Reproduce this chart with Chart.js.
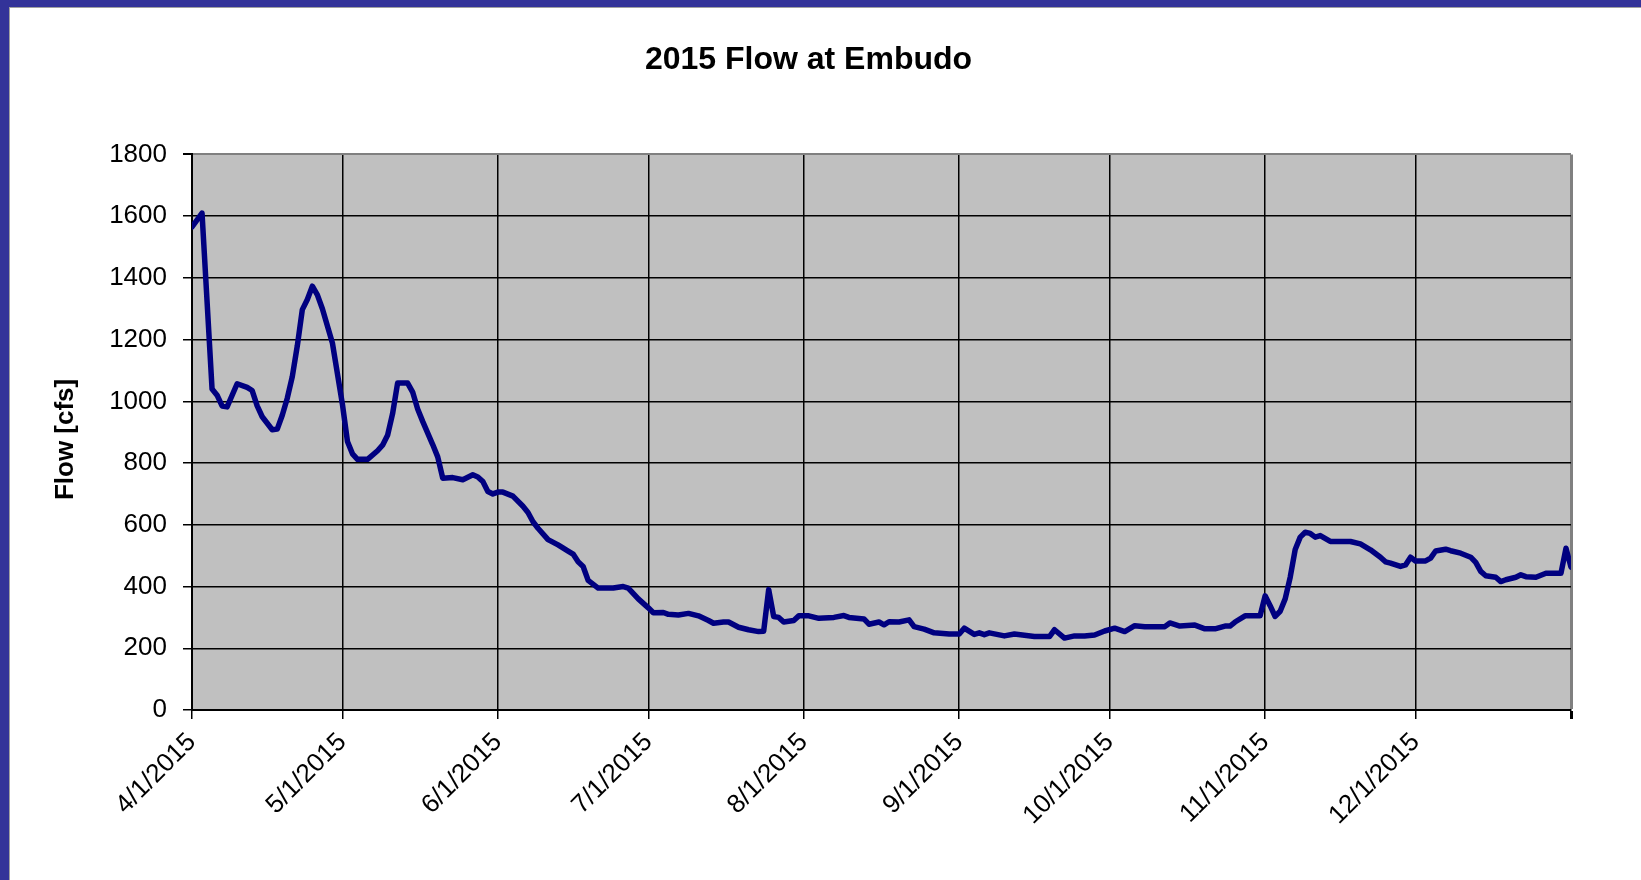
<!DOCTYPE html>
<html>
<head>
<meta charset="utf-8">
<title>2015 Flow at Embudo</title>
<script src="https://cdn.jsdelivr.net/npm/chart.js@4.4.1/dist/chart.umd.min.js"></script>
<style>
  html, body { margin: 0; padding: 0; background: #fff; }
  #frame {
    position: absolute; left: 0; top: 0; width: 1632px; height: 873px;
    border-top: 7px solid #333399; border-left: 9px solid #333399;
  }
  #inner {
    position: absolute; left: 0; top: 0; right: 0; bottom: 0;
    border-top: 1px solid #a0a0a0; border-left: 1px solid #a0a0a0;
  }
  #chart { position: absolute; left: 10px; top: 8px; }
</style>
</head>
<body>
<div id="frame"><div id="inner"></div></div>
<canvas id="chart" width="1598" height="872"></canvas>
<script>
// day offsets from 4/1/2015 and daily flow
const days = [0, 2, 4, 5, 6, 7, 9, 11, 12, 13, 14, 16, 17, 18, 19, 20, 21, 22, 23, 24, 25, 26, 28, 30,
  31, 32, 33, 35, 37, 38, 39, 40, 41, 43, 44, 45, 46, 48, 49, 50, 52, 54, 56, 57, 58, 59, 60, 61, 62,
  64, 66, 67, 68, 69, 71, 73, 75, 76, 77, 78, 79, 81, 84, 86, 87, 89, 91, 92, 94, 95, 97, 99, 101, 103,
  104, 106, 107, 109, 111, 113, 114, 115, 116, 117, 118, 120, 121, 123, 125, 128, 130, 131, 134, 135,
  137, 138, 139, 141, 143, 144, 146, 148, 151, 153, 154, 156, 157, 158, 159, 162, 164, 168, 171, 172,
  174, 176, 178, 180, 182, 184, 186, 188, 190, 194, 195, 197, 200, 202, 204, 206, 207, 208, 210, 213,
  214, 215, 216, 217, 218, 219, 220, 221, 222, 223, 224, 225, 227, 231, 233, 235, 237, 238, 239, 241,
  242, 243, 244, 246, 247, 248, 250, 251, 253, 255, 256, 257, 258, 260, 261, 262, 264, 265, 266, 268,
  270, 273, 274, 275];
const flow = [1565, 1610, 1040, 1020, 985, 982, 1057, 1045, 1035, 985, 950, 908, 910, 955, 1010, 1080,
  1180, 1297, 1330, 1373, 1345, 1300, 1189, 990,
  870, 830, 812, 812, 840, 858, 890, 960, 1059, 1059, 1030, 975, 935, 860, 820, 751, 753, 746, 762, 755,
  740, 708, 700, 706, 706,
  693, 660, 640, 610, 589, 552, 535, 515, 505, 480, 465, 420, 395, 395, 400, 395, 360, 331, 315, 316,
  310, 308, 313, 305, 290,
  281, 285, 285, 268, 260, 254, 255, 390, 303, 300, 285, 290, 305, 305, 297, 300, 306, 300, 295, 278,
  285, 276, 286, 285, 292, 270, 262, 250, 246, 246, 265, 245, 250, 244, 250, 240, 246, 238, 238, 260,
  233, 240, 240, 243, 256, 265, 254, 273, 270, 270, 282, 272, 275, 263, 263, 272, 272, 285, 305, 305,
  370, 338, 303, 320, 360, 430, 520, 560, 576, 572, 560, 565, 546, 546, 538, 519, 495, 480, 476, 465,
  470, 495, 483, 483, 492, 515, 521, 516, 508, 495, 478, 449, 435, 430, 416, 422, 430, 438, 432, 430,
  443, 443, 524, 463];

// month ticks on the date axis
const monthDays = [0, 30, 61, 91, 122, 153, 183, 214, 244, 275];
const monthLabels = ['4/1/2015', '5/1/2015', '6/1/2015', '7/1/2015', '8/1/2015', '9/1/2015',
  '10/1/2015', '11/1/2015', '12/1/2015', ''];

const yMax = 1800;
const FONT = "'Liberation Sans', Arial, sans-serif";

// grey plot background like the Excel plot area
const plotArea = {
  id: 'plotArea',
  beforeDraw(chart) {
    const { ctx, chartArea: a } = chart;
    ctx.save();
    ctx.fillStyle = '#c0c0c0';
    ctx.fillRect(a.left, a.top, a.right - a.left, a.bottom - a.top);
    ctx.restore();
  }
};

const points = days.map((d, i) => ({ x: d, y: flow[i] }));

new Chart(document.getElementById('chart'), {
  type: 'line',
  data: {
    datasets: [{
      label: 'Flow',
      data: points,
      borderColor: '#000080',
      borderWidth: 5.5,
      borderJoinStyle: 'round',
      borderCapStyle: 'round',
      pointRadius: 0,
      tension: 0,
      fill: false
    }]
  },
  options: {
    responsive: false,
    animation: false,
    layout: { padding: { left: 36, right: 37, top: 0, bottom: 0 } },
    plugins: {
      legend: { display: false },
      tooltip: { enabled: false },
      title: {
        display: true,
        text: '2015 Flow at Embudo',
        color: '#000',
        font: { family: FONT, size: 32, weight: 'bold' },
        padding: { top: 33, bottom: 75 }
      }
    },
    scales: {
      x: {
        type: 'linear',
        min: 0,
        max: 275,
        afterBuildTicks(scale) {
          scale.ticks = monthDays.map(v => ({ value: v }));
        },
        afterFit(scale) { scale.height = 170; },
        ticks: {
          autoSkip: false,
          minRotation: 45,
          maxRotation: 45,
          color: '#000',
          padding: 8,
          font: { family: FONT, size: 26 },
          callback(value) {
            const i = monthDays.indexOf(value);
            return i >= 0 ? monthLabels[i] : '';
          }
        },
        grid: {
          color: ctx => (ctx.tick && ctx.tick.value === 275 ? '#808080' : '#000'),
          lineWidth: ctx => (ctx.tick && ctx.tick.value === 275 ? 3 : 1.5),
          tickColor: '#000',
          tickLength: 9
        },
        border: { color: '#000', width: 2 }
      },
      y: {
        min: 0,
        max: yMax,
        afterFit(scale) { scale.width = 146; },
        ticks: {
          stepSize: 200,
          color: '#000',
          padding: 16,
          font: { family: FONT, size: 26 },
          callback: value => String(value)
        },
        grid: {
          color: ctx => (ctx.tick && ctx.tick.value === yMax ? '#808080' : '#000'),
          lineWidth: ctx => (ctx.tick && ctx.tick.value === yMax ? 2 : 1.5),
          tickColor: '#000',
          tickLength: 9
        },
        border: { color: '#000', width: 2 },
        title: {
          display: true,
          text: 'Flow [cfs]  ',
          color: '#000',
          font: { family: FONT, size: 26, weight: 'bold' },
          padding: { top: 4, bottom: 4 }
        }
      }
    }
  },
  plugins: [plotArea]
});
</script>
</body>
</html>
